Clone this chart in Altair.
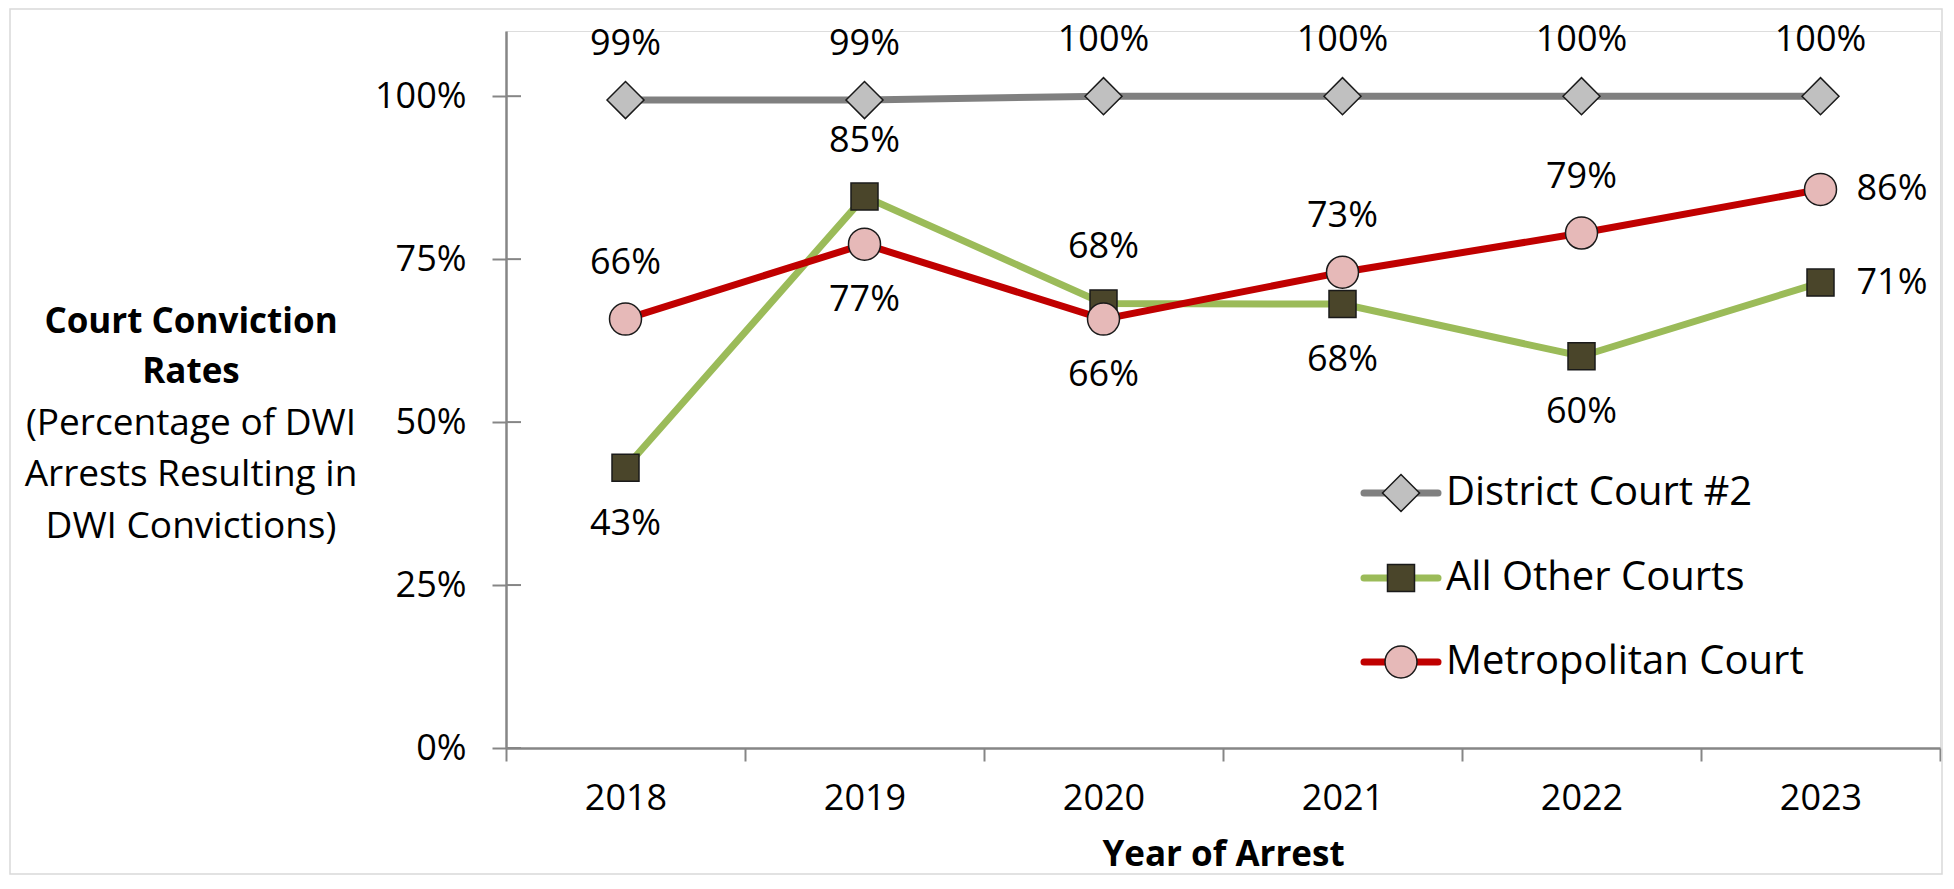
import altair as alt
import pandas as pd

# ---------------- data ----------------
years = ["2018", "2019", "2020", "2021", "2022", "2023"]
series_names = ["District Court #2", "All Other Courts", "Metropolitan Court"]
district = [0.994, 0.994, 1.0, 1.0, 1.0, 1.0]
other = [0.43, 0.846, 0.682, 0.681, 0.601, 0.714]
metro = [0.658, 0.773, 0.658, 0.73, 0.79, 0.857]
# where each value label sits relative to its marker
district_pos = ["above", "above", "above", "above", "above", "above"]
other_pos = ["below", "above", "above", "below", "below", "right"]
metro_pos = ["above", "below", "below", "above", "above", "right"]
y_ticks = [0, 0.25, 0.5, 0.75, 1.0]
ytitle_bold = ["Court Conviction", "Rates"]
ytitle_regular = ["(Percentage of DWI", "Arrests Resulting in", "DWI Convictions)"]
x_title = "Year of Arrest"

# ---------------- styles ----------------
line_colors = ["#808080", "#9BBB59", "#C00000"]
marker_fills = ["#C0C0C0", "#4A452A", "#E6B9B8"]
marker_shapes = ["diamond", "square", "circle"]
marker_sizes = [1369, 729, 1024]
FONT = "Open Sans"
AXIS_GRAY = "#868686"
W, H = 1434, 717

df = pd.DataFrame({
    "year": years * 3,
    "series": [s for s in series_names for _ in years],
    "value": district + other + metro,
    "pos": district_pos + other_pos + metro_pos,
})

x_scale = alt.Scale(type="band", domain=years, paddingInner=0, paddingOuter=0)
y_scale = alt.Scale(domain=[0, 1.1], nice=False, zero=True)

x_axis = alt.Axis(
    title=x_title, labelAngle=0, labelFontSize=36, labelFont=FONT, labelColor="#000000",
    labelPadding=20, tickBand="extent", tickSize=13, tickColor=AXIS_GRAY, tickWidth=2,
    domainColor=AXIS_GRAY, domainWidth=2.5, titleFont=FONT, titleFontSize=35,
    titleFontWeight="bold", titleColor="#000000", titleY=106, titleBaseline="middle")
y_axis = alt.Axis(
    title="", values=y_ticks, format=".0%", labelFontSize=36, labelFont=FONT,
    labelColor="#000000", labelPadding=26, tickSize=14, tickColor=AXIS_GRAY, tickWidth=2,
    domainColor=AXIS_GRAY, domainWidth=2.5, grid=False)
x_enc = alt.X("year:O", scale=x_scale, axis=x_axis)
y_enc = alt.Y("value:Q", scale=y_scale, axis=y_axis)

layers = []

# chart border
layers.append(alt.Chart(pd.DataFrame({"k": [0]})).mark_rect(
    fillOpacity=0, stroke="#D9D9D9", strokeWidth=1.5).encode(
    x=alt.value(-496), x2=alt.value(W + 2), y=alt.value(-22), y2=alt.value(843)))

# inner half of y ticks
layers.append(alt.Chart(pd.DataFrame({"value": y_ticks})).mark_rule(
    color=AXIS_GRAY, strokeWidth=2).encode(
    y=y_enc, x=alt.value(0), x2=alt.value(15)))

for i, name in enumerate(series_names):
    d = df[df["series"] == name]
    layers.append(alt.Chart(d).mark_line(
        color=line_colors[i], strokeWidth=7).encode(x=x_enc, y=y_enc))
    layers.append(alt.Chart(d).mark_point(
        shape=marker_shapes[i], size=marker_sizes[i], filled=True, fill=marker_fills[i],
        fillOpacity=1, stroke="#1a1a1a", strokeWidth=1.5, strokeOpacity=1, opacity=1).encode(
        x=x_enc, y=y_enc))

# value labels
lab_text = alt.Text("value:Q", format=".0%")
layers.append(alt.Chart(df).transform_filter(alt.datum.pos == "above").mark_text(
    dy=-56, fontSize=36, font=FONT, color="#000000", baseline="middle").encode(
    x=x_enc, y=y_enc, text=lab_text))
layers.append(alt.Chart(df).transform_filter(alt.datum.pos == "below").mark_text(
    dy=56, fontSize=36, font=FONT, color="#000000", baseline="middle").encode(
    x=x_enc, y=y_enc, text=lab_text))
layers.append(alt.Chart(df).transform_filter(alt.datum.pos == "right").mark_text(
    dx=36, fontSize=36, font=FONT, color="#000000", baseline="middle", align="left").encode(
    x=x_enc, y=y_enc, text=lab_text))

# legend (drawn by hand)
leg_y = [462, 547, 631]
for i, name in enumerate(series_names):
    one = pd.DataFrame({"series": [name]})
    layers.append(alt.Chart(one).mark_rule(
        color=line_colors[i], strokeWidth=7, strokeCap="round").encode(
        x=alt.value(858), x2=alt.value(932), y=alt.value(leg_y[i])))
    layers.append(alt.Chart(one).mark_point(
        shape=marker_shapes[i], size=marker_sizes[i], filled=True, fill=marker_fills[i],
        fillOpacity=1, stroke="#1a1a1a", strokeWidth=1.5, strokeOpacity=1, opacity=1).encode(
        x=alt.value(895), y=alt.value(leg_y[i])))
    layers.append(alt.Chart(one).mark_text(
        fontSize=40, font=FONT, color="#000000", align="left", baseline="middle").encode(
        x=alt.value(940), y=alt.value(leg_y[i]), text="series:N"))

# y-axis title (multi-line, mixed weight)
title_lines = ytitle_bold + ytitle_regular
title_y = [291, 341, 393, 444, 496]
for j, line in enumerate(title_lines):
    one = pd.DataFrame({"t": [line]})
    layers.append(alt.Chart(one).mark_text(
        fontSize=35 if j < len(ytitle_bold) else 37, font=FONT, color="#000000",
        fontWeight="bold" if j < len(ytitle_bold) else "normal",
        align="center", baseline="middle").encode(
        x=alt.value(-315), y=alt.value(title_y[j]), text="t:N"))

chart = alt.layer(*layers).properties(
    width=W, height=H,
    padding={"left": 498, "top": 23, "right": 4, "bottom": 128},
    autosize=alt.AutoSizeParams(type="none"),
).configure_view(stroke=None).configure(background="#ffffff")

chart.save("out.html", embed_options={"renderer": "svg", "actions": False})
